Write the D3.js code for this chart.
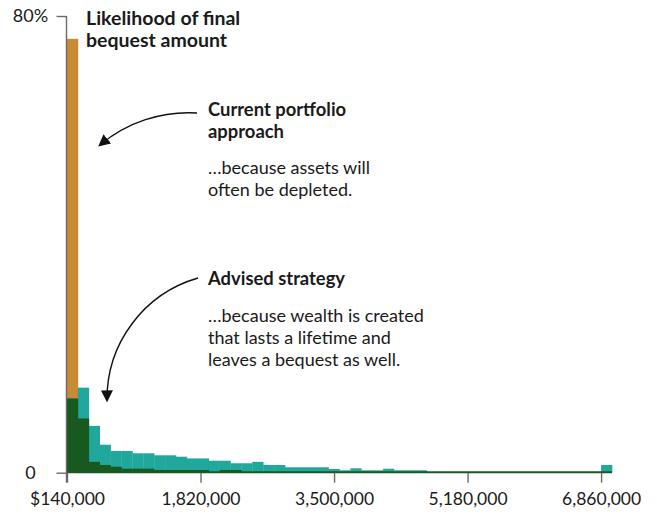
<!DOCTYPE html>
<html>
<head>
<meta charset="utf-8">
<script src="https://cdn.jsdelivr.net/npm/d3@7"></script>
<style>
  body { margin: 0; background: #fff; }
  svg text { font-family: Lato, "Noto Sans", sans-serif; fill: #1a1a1a; }
</style>
</head>
<body>
<svg id="chart" width="657" height="515"></svg>
<script>
// histogram bins: 49 equal bins between $140,000 and $6,860,000, plus a last one for 6,860,000+
const binStart = 140000;
const binEnd = 6860000;
const binCount = 50;

// likelihood (%) per bin
const currentApproach = [76, 9.5, 1.9, 1.35, 1.05, 0.7, 0.7, 0.7, 0.47, 0.47,
  0.47, 0.47, 0.47, 0, 0.47, 0.47, 0, 0, 0, 0,
  0, 0, 0, 0, 0, 0, 0, 0, 0, 0,
  0, 0, 0, 0, 0, 0, 0, 0, 0, 0,
  0, 0, 0, 0, 0, 0, 0, 0, 0, 0];
const advisedStrategy = [13, 14.9, 8.2, 4.9, 3.8, 3.8, 3.4, 3.4, 3.05, 3.05,
  2.8, 2.5, 2.5, 2.1, 2.1, 1.65, 1.65, 1.9, 1.35, 1.35,
  0.95, 0.95, 0.95, 0.95, 0.65, 0.42, 0.77, 0.42, 0.42, 0.7,
  0.42, 0.42, 0.42, 0, 0, 0, 0, 0, 0, 0,
  0, 0, 0, 0, 0, 0, 0, 0, 0, 1.35];

const xTicks = [140000, 1820000, 3500000, 5180000, 6860000];
const yTicks = [0, 80];

const colOrange = '#c88b33';
const colTeal = '#1fa89b';
const colDark = '#17591f';

let binW = (binEnd - binStart) / (binCount - 1);

let svg = d3.select('#chart');

let x = d3.scaleLinear()
  .domain([binStart, binEnd + binW])
  .range([67, 612]);

let y = d3.scaleLinear()
  .domain([0, 80])
  .range([472.7, 16]);

let bins = d3.range(binCount).map(i => ({
  x0: binStart + i * binW,
  x1: binStart + (i + 1) * binW,
  cur: currentApproach[i],
  adv: advisedStrategy[i]
}));

function drawBars(cls, color, val){
  svg.append('g')
    .attr('class', cls)
    .selectAll('rect')
    .data(bins.filter(d => val(d) > 0))
    .enter()
    .append('rect')
    .attr('x', d => x(d.x0))
    .attr('width', d => x(d.x1) - x(d.x0) + 0.3)
    .attr('y', d => y(val(d)))
    .attr('height', d => y(0) - y(val(d)))
    .style('fill', color);
}

drawBars('current', colOrange, d => d.cur);
drawBars('advised', colTeal, d => d.adv);
// where both distributions overlap
drawBars('overlap', colDark, d => Math.min(d.cur, d.adv));

// dark baseline under the bars
svg.append('line')
  .attr('x1', x(binStart)).attr('x2', x(binEnd + binW))
  .attr('y1', y(0) - 0.5).attr('y2', y(0) - 0.5)
  .style('stroke', colDark)
  .style('stroke-width', 2);

// x axis
let xAxis = svg.append('g')
  .attr('transform', `translate(0, ${y(0)})`)
  .call(d3.axisBottom(x)
    .tickValues(xTicks)
    .tickSize(10)
    .tickFormat((d, i) => (i == 0 ? '$' : '') + d3.format(',')(d)));
xAxis.select('.domain').remove();
xAxis.selectAll('.tick line').style('stroke', '#6a6a6a').style('stroke-width', 1.4);
xAxis.selectAll('.tick text')
  .attr('y', 20)
  .attr('dy', '0.71em')
  .style('font-size', '17.5px')
  .style('font-family', 'Lato, sans-serif')
  .style('fill', '#1a1a1a');

// y axis
let yAxis = svg.append('g')
  .attr('transform', `translate(${x(binStart) - 0.5}, 0)`)
  .call(d3.axisLeft(y)
    .tickValues(yTicks)
    .tickSize(10)
    .tickFormat(d => d == 0 ? '0' : d + '%'));
yAxis.select('.domain').remove();
yAxis.selectAll('.tick line').style('stroke', '#6a6a6a').style('stroke-width', 1.4);
yAxis.selectAll('.tick text')
  .attr('x', -36)
  .style('text-anchor', 'middle')
  .style('font-size', '18px')
  .style('font-family', 'Lato, sans-serif')
  .style('fill', '#1a1a1a');
yAxis.append('line')
  .attr('y1', y(80)).attr('y2', y(0) + 10)
  .style('stroke', '#6a6a6a')
  .style('stroke-width', 1.4);

// texts
function addText(lines, x0, baselines, weight, size){
  svg.append('g')
    .selectAll('text')
    .data(lines)
    .enter()
    .append('text')
    .attr('x', x0)
    .attr('y', (d, i) => baselines[i])
    .style('font-size', size + 'px')
    .style('font-weight', weight)
    .text(d => d);
}

addText(['Likelihood of final', 'bequest amount'], 86, [25, 47], 700, 19.5);
addText(['Current portfolio', 'approach'], 208, [116, 138], 700, 18.4);
addText(['…because assets will', 'often be depleted.'], 208, [174, 196], 400, 18);
addText(['Advised strategy'], 208, [285], 700, 18.4);
addText(['…because wealth is created', 'that lasts a lifetime and', 'leaves a bequest as well.'], 208, [322, 344, 366], 400, 18);

// arrows
let defs = svg.append('defs');
defs.append('marker')
  .attr('id', 'head')
  .attr('markerUnits', 'userSpaceOnUse')
  .attr('viewBox', '0 0 10 10')
  .attr('refX', 8)
  .attr('refY', 5)
  .attr('markerWidth', 12)
  .attr('markerHeight', 12)
  .attr('orient', 'auto')
  .append('path')
  .attr('d', 'M0,0 L10,5 L0,10 z')
  .style('fill', '#111');

svg.append('path')
  .attr('d', 'M197,113 A138,138 0 0 0 100,145')
  .style('fill', 'none')
  .style('stroke', '#111')
  .style('stroke-width', 1.4)
  .attr('marker-end', 'url(#head)');

svg.append('path')
  .attr('d', 'M198,278 A126,126 0 0 0 107,400')
  .style('fill', 'none')
  .style('stroke', '#111')
  .style('stroke-width', 1.4)
  .attr('marker-end', 'url(#head)');
</script>
</body>
</html>
